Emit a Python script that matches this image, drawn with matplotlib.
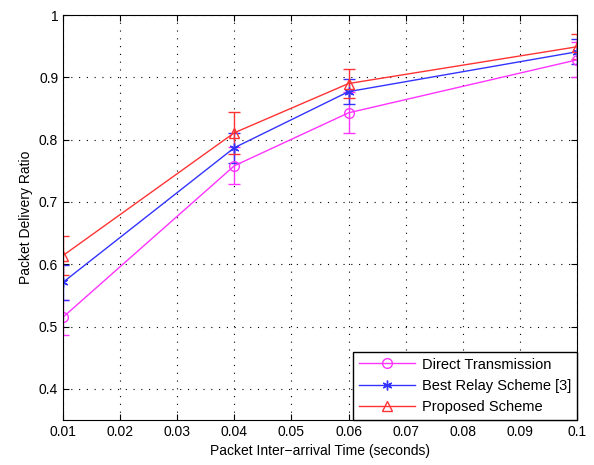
import matplotlib
matplotlib.use('Agg')
import matplotlib.pyplot as plt
from matplotlib.lines import Line2D
import numpy as np

plt.rcParams['font.family'] = ['Liberation Sans', 'DejaVu Sans']
plt.rcParams['font.size'] = 10

# data
x = [0.01, 0.04, 0.06, 0.1]
direct = [0.515, 0.758, 0.843, 0.928]
direct_err = [0.028, 0.030, 0.033, 0.028]
relay = [0.571, 0.787, 0.877, 0.941]
relay_err = [0.028, 0.024, 0.020, 0.020]
proposed = [0.614, 0.811, 0.890, 0.949]
proposed_err = [0.032, 0.034, 0.024, 0.020]
names = ['Direct Transmission', 'Best Relay Scheme [3]', 'Proposed Scheme']

fig = plt.figure(figsize=(5.94, 4.65), dpi=100)
ax = fig.add_axes([63/594, 45/465, 514/594, 405/465])

styles = [('#ff33ff', 'o', 'none'), ('#3333ff', (6, 2, 0), '#3333ff'),
          ('#ff3333', '^', 'none')]
handles = []
for y, e, (c, m, fc), n in zip([direct, relay, proposed],
                               [direct_err, relay_err, proposed_err],
                               styles, names):
    ax.errorbar(x, y, yerr=e, color=c, marker=m, ms=7, mfc=fc, lw=1,
                capsize=4)
    handles.append(Line2D([], [], color=c, marker=m, ms=7, mfc=fc, lw=1,
                          label=n))

ax.set_xlim(0.01, 0.1)
ax.set_ylim(0.35, 1.0)
ax.set_xticks(np.arange(0.01, 0.1001, 0.01))
ax.set_xticklabels(['0.01', '0.02', '0.03', '0.04', '0.05', '0.06', '0.07',
                    '0.08', '0.09', '0.1'])
ax.set_yticks([0.4, 0.5, 0.6, 0.7, 0.8, 0.9, 1.0])
ax.set_yticklabels(['0.4', '0.5', '0.6', '0.7', '0.8', '0.9', '1'])
ax.grid(True, linestyle=(0, (1, 6)), color='black', lw=0.8)
ax.tick_params(direction='in', top=True, right=True, length=4)
ax.set_xlabel('Packet Inter\u2212arrival Time (seconds)')
ax.set_ylabel('Packet Delivery Ratio')

leg = ax.legend(handles=handles, loc='lower right', fancybox=False,
                edgecolor='black', framealpha=1, borderaxespad=0.0,
                handlelength=3.8, fontsize=10.5, labelspacing=0.5,
                handletextpad=0.5)
leg.get_frame().set_linewidth(1)

plt.savefig('out.png')
